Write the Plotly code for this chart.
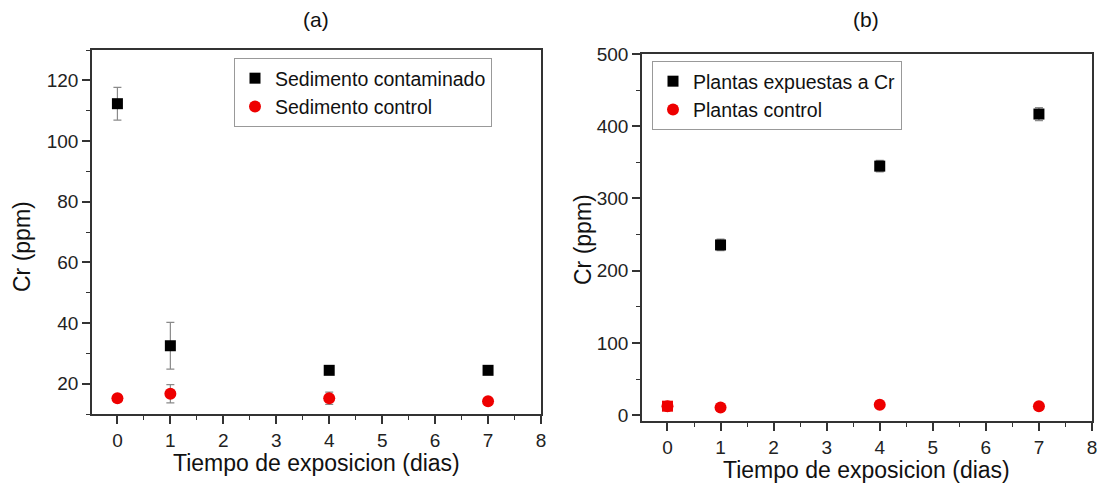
import plotly.graph_objects as go

# ---- data ----
days = [0, 1, 4, 7]

sed_cont = [112.3, 32.5, 24.4, 24.4]
sed_cont_err = [5.4, 7.7, 1.0, 1.2]
sed_ctrl = [15.2, 16.7, 15.2, 14.2]
sed_ctrl_err = [0.8, 3.0, 2.0, 0.8]

# plant series (day 0 listed last so it is drawn under the control point)
days_b = [1, 4, 7, 0]
pl_exp = [235.7, 344.8, 416.9, 12.5]
pl_exp_err = [8.0, 8.0, 9.0, 3.0]
pl_ctrl = [12.5, 10.7, 14.4, 12.5]
pl_ctrl_err = [2.0, 1.5, 2.0, 1.5]

x_ticks = [0, 1, 2, 3, 4, 5, 6, 7, 8]

W, H = 1097, 496
OFF = 0  # body margin removed by post_script below
ML, MR, MT, MB = 40, 2, 40, 30
FONT = "Liberation Sans, Arial, sans-serif"
AX = "#333333"
ERR = "#8a8a8a"

def px_x(p):
    return (p - OFF - ML) / (W - ML - MR)

def px_y(p):
    return 1 - (p - OFF - MT) / (H - MT - MB)

# domains (from pixel positions of the frames in the window)
dxa = [px_x(92), px_x(541)]
dya = [px_y(414), px_y(50)]
dxb = [px_x(642), px_x(1092)]
dyb = [px_y(421), px_y(54)]

fig = go.Figure()

sq = dict(symbol="square", size=11, color="black")
ci = dict(symbol="circle", size=12, color="#ee0000")

fig.add_trace(go.Scatter(x=days, y=sed_cont, mode="markers", name="Sedimento contaminado",
                         marker=sq, xaxis="x", yaxis="y", legend="legend",
                         error_y=dict(type="data", array=sed_cont_err, color=ERR, thickness=1.2, width=4)))
fig.add_trace(go.Scatter(x=days, y=sed_ctrl, mode="markers", name="Sedimento control",
                         marker=ci, xaxis="x", yaxis="y", legend="legend",
                         error_y=dict(type="data", array=sed_ctrl_err, color=ERR, thickness=1.2, width=4)))

sq_b = dict(symbol="square", size=11, color=["black", "black", "black", "#ee0000"])
fig.add_trace(go.Scatter(x=days_b, y=pl_exp, mode="markers", name="Plantas expuestas a Cr",
                         marker=sq_b, xaxis="x2", yaxis="y2", legend="legend2",
                         error_y=dict(type="data", array=pl_exp_err, color=ERR, thickness=1.2, width=4)))
fig.add_trace(go.Scatter(x=days, y=pl_ctrl, mode="markers", name="Plantas control",
                         marker=ci, xaxis="x2", yaxis="y2", legend="legend2",
                         error_y=dict(type="data", array=pl_ctrl_err, color=ERR, thickness=1.2, width=4)))

tickfont = dict(family=FONT, size=19, color="#222")

def xax(domain, anchor, rng):
    return dict(domain=domain, anchor=anchor, range=rng, tickmode="array", tickvals=x_ticks,
                ticks="outside", ticklen=8, tickwidth=1.5, tickcolor=AX, automargin=False,
                ticklabeloverflow="allow",
                showline=True, linecolor=AX, linewidth=1.5, mirror=True,
                showgrid=False, zeroline=False, tickfont=tickfont,
                minor=dict(dtick=0.5, ticks="outside", ticklen=4, tickwidth=1.2, tickcolor=AX))

def yax(domain, anchor, rng, dtick, minor):
    return dict(domain=domain, anchor=anchor, range=rng, dtick=dtick, tick0=0,
                ticks="outside", ticklen=8, tickwidth=1.5, tickcolor=AX, automargin=False,
                ticklabeloverflow="allow",
                showline=True, linecolor=AX, linewidth=1.5, mirror=True,
                showgrid=False, zeroline=False, tickfont=tickfont,
                minor=dict(dtick=minor, ticks="outside", ticklen=4, tickwidth=1.2, tickcolor=AX))

def mirror_x(over, anchor, rng):
    return dict(overlaying=over, anchor=anchor, side="top", range=rng, tickmode="array",
                tickvals=x_ticks, ticks="inside", ticklen=7, tickwidth=1.5, tickcolor=AX,
                showticklabels=False, showgrid=False, zeroline=False, showline=False, automargin=False,
                minor=dict(dtick=0.5, ticks="inside", ticklen=4, tickwidth=1.2, tickcolor=AX))

def mirror_y(over, anchor, rng, dtick, minor):
    return dict(overlaying=over, anchor=anchor, side="right", range=rng, dtick=dtick, tick0=0,
                ticks="inside", ticklen=7, tickwidth=1.5, tickcolor=AX,
                showticklabels=False, showgrid=False, zeroline=False, showline=False, automargin=False,
                minor=dict(dtick=minor, ticks="inside", ticklen=4, tickwidth=1.2, tickcolor=AX))

xr = [-0.48, 8.0]
yra = [10, 130]
yrb = [-8, 500]

legfont = dict(family=FONT, size=19.5, color="#111")

fig.update_layout(
    width=W, height=H,
    margin=dict(l=ML, r=MR, t=MT, b=MB, autoexpand=False),
    paper_bgcolor="white", plot_bgcolor="white",
    font=dict(family=FONT, color="#111"),
    showlegend=True,
    xaxis=xax(dxa, "y", xr),
    yaxis=yax(dya, "x", yra, 20, 10),
    xaxis2=xax(dxb, "y2", xr),
    yaxis2=yax(dyb, "x2", yrb, 100, 50),
    xaxis3=mirror_x("x", "y", xr),
    yaxis3=mirror_y("y", "x", yra, 20, 10),
    xaxis4=mirror_x("x2", "y2", xr),
    yaxis4=mirror_y("y2", "x2", yrb, 100, 50),
    legend=dict(x=px_x(234), y=px_y(58), xanchor="left", yanchor="top",
                bgcolor="white", bordercolor="#999", borderwidth=1, font=legfont,
                itemwidth=30, tracegroupgap=0),
    legend2=dict(x=px_x(652), y=px_y(61), xanchor="left", yanchor="top",
                 bgcolor="white", bordercolor="#999", borderwidth=1, font=legfont,
                 itemwidth=30, tracegroupgap=0),
)

ann_font = dict(family=FONT, size=21, color="#111")
title_font = dict(family=FONT, size=23, color="#111")
annotations = [
    dict(text="(a)", x=px_x(316), y=px_y(20), font=ann_font),
    dict(text="(b)", x=px_x(866), y=px_y(20), font=ann_font),
    dict(text="Tiempo de exposicion (dias)", x=px_x(316), y=px_y(463), font=title_font),
    dict(text="Tiempo de exposicion (dias)", x=px_x(866), y=px_y(470), font=title_font),
    dict(text="Cr (ppm)", x=px_x(22), y=px_y(247), textangle=-90, font=title_font),
    dict(text="Cr (ppm)", x=px_x(583), y=px_y(240), textangle=-90, font=title_font),
]
for a in annotations:
    fig.add_annotation(xref="paper", yref="paper", showarrow=False,
                       xanchor="center", yanchor="middle", **a)

fig.write_html("out.html", config={"displayModeBar": False},
               post_script="document.body.style.margin='0';document.body.style.overflow='hidden';")
